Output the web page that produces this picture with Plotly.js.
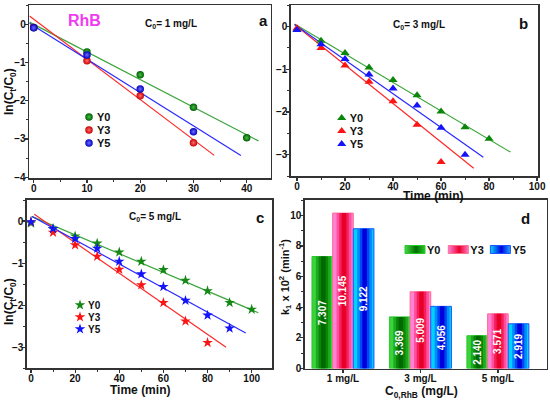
<!DOCTYPE html>
<html>
<head>
<meta charset="utf-8">
<script src="https://cdn.plot.ly/plotly-3.0.1.min.js"></script>
<style>
html,body{margin:0;padding:0;background:#fff;}
#chart{width:550px;height:402px;}
</style>
</head>
<body>
<svg width="0" height="0" style="position:absolute;left:0;top:0" aria-hidden="true">
  <defs>
    <linearGradient id="gradY0" x1="0" y1="0" x2="1" y2="0">
      <stop offset="0" stop-color="rgb(70,220,70)"/><stop offset="0.55" stop-color="rgb(0,110,0)"/><stop offset="1" stop-color="rgb(40,200,40)"/>
    </linearGradient>
    <linearGradient id="gradY3" x1="0" y1="0" x2="1" y2="0">
      <stop offset="0" stop-color="rgb(255,130,220)"/><stop offset="0.55" stop-color="rgb(235,0,40)"/><stop offset="1" stop-color="rgb(255,120,200)"/>
    </linearGradient>
    <linearGradient id="gradY5" x1="0" y1="0" x2="1" y2="0">
      <stop offset="0" stop-color="rgb(0,215,255)"/><stop offset="0.55" stop-color="rgb(0,0,225)"/><stop offset="1" stop-color="rgb(30,170,255)"/>
    </linearGradient>
  </defs>
</svg>
<div id="chart"></div>
<script>
// ---------- Data ----------
// Panel a: C0 = 1 mg/L
var aT0 = [0, 10, 20, 30, 40];
var aY0 = [-0.08, -0.72, -1.32, -2.17, -2.97];
var aT3 = [0, 10, 20, 30];
var aY3 = [-0.08, -0.95, -1.87, -3.10];
var aT5 = [0, 10, 20, 30];
var aY5 = [-0.09, -0.80, -1.69, -2.81];
var aFitX0 = [-0.8, 42.2], aFitY0 = [0.06, -3.05];
var aFitX3 = [-0.8, 33.9], aFitY3 = [0.22, -3.43];
var aFitX5 = [-0.8, 38.9], aFitY5 = [0.03, -3.43];

// Panel b: C0 = 3 mg/L
var bT0 = [0, 10, 20, 30, 40, 50, 60, 70, 80];
var bY0 = [-0.06, -0.33, -0.62, -0.96, -1.25, -1.61, -1.99, -2.36, -2.63];
var bT3 = [0, 10, 20, 30, 40, 50, 60];
var bY3 = [-0.04, -0.50, -0.91, -1.29, -1.75, -2.30, -3.17];
var bT5 = [0, 10, 20, 30, 40, 50, 60, 70];
var bY5 = [-0.08, -0.41, -0.76, -1.12, -1.45, -1.85, -2.37, -3.00];
var bFitX0 = [-1, 88.9], bFitY0 = [0.06, -2.94];
var bFitX3 = [-1, 73.6], bFitY3 = [0.05, -3.32];
var bFitX5 = [-1, 77.6], bFitY5 = [0.05, -3.06];

// Panel c: C0 = 5 mg/L
var cT0 = [0, 10, 20, 30, 40, 50, 60, 70, 80, 90, 100];
var cY0 = [-0.05, -0.19, -0.36, -0.53, -0.74, -0.96, -1.16, -1.41, -1.66, -1.94, -2.10];
var cT3 = [0, 10, 20, 30, 40, 50, 60, 70, 80];
var cY3 = [-0.02, -0.27, -0.57, -0.84, -1.15, -1.52, -1.94, -2.38, -2.89];
var cT5 = [0, 10, 20, 30, 40, 50, 60, 70, 80, 90];
var cY5 = [-0.02, -0.18, -0.42, -0.65, -0.96, -1.26, -1.56, -1.89, -2.24, -2.55];
var cFitX0 = [0.3, 103], cFitY0 = [0.11, -2.18];
var cFitX3 = [1.5, 88.4], cFitY3 = [0.16, -3.00];
var cFitX5 = [0.5, 97.3], cFitY5 = [0.11, -2.66];

// Panel d: rate constants k1 x 10^2 (min^-1)
var dCats = ['1 mg/L', '3 mg/L', '5 mg/L'];
var kY0 = [7.307, 3.369, 2.140];
var kY3 = [10.145, 5.009, 3.571];
var kY5 = [9.122, 4.056, 2.919];
var kY0Text = ['7.307', '3.369', '2.140'];
var kY3Text = ['10.145', '5.009', '3.571'];
var kY5Text = ['9.122', '4.056', '2.919'];

var seriesNames = ['Y0', 'Y3', 'Y5'];

// ---------- Styles ----------
var FONT = 'Liberation Sans, Arial, sans-serif';
var GL = 'rgb(60,165,60)', RL = 'rgb(255,40,40)', BL = 'rgb(40,40,255)';
var W = 550, H = 402;
function px(x){ return x / W; }
function py(y){ return 1 - y / H; }

function sphere(color, light){
  return {symbol:'circle', size:7.5, color:color, gradient:{type:'radial', color:light}, line:{width:0}};
}
function pts(x, y, name, marker, xa, ya, leg){
  return {x:x, y:y, name:name, type:'scatter', mode:'markers', marker:marker, xaxis:xa, yaxis:ya, legend:leg, hoverinfo:'skip'};
}
function fit(x, y, color, xa, ya){
  return {x:x, y:y, type:'scatter', mode:'lines', line:{color:color, width:1.2}, xaxis:xa, yaxis:ya, showlegend:false, hoverinfo:'skip'};
}

var traces = [
  fit(aFitX0, aFitY0, GL, 'x', 'y'), fit(aFitX3, aFitY3, RL, 'x', 'y'), fit(aFitX5, aFitY5, BL, 'x', 'y'),
  pts(aT0, aY0, seriesNames[0], sphere('rgb(0,95,0)', 'rgb(70,190,70)'), 'x', 'y', 'legend'),
  pts(aT3, aY3, seriesNames[1], sphere('rgb(200,0,0)', 'rgb(255,110,110)'), 'x', 'y', 'legend2'),
  pts(aT5, aY5, seriesNames[2], sphere('rgb(0,0,190)', 'rgb(110,110,255)'), 'x', 'y', 'legend3'),

  fit(bFitX0, bFitY0, GL, 'x2', 'y2'), fit(bFitX3, bFitY3, RL, 'x2', 'y2'), fit(bFitX5, bFitY5, BL, 'x2', 'y2'),
  pts(bT0, bY0, seriesNames[0], {symbol:'triangle-up', size:8, color:'rgb(10,135,10)'}, 'x2', 'y2', 'legend4'),
  pts(bT3, bY3, seriesNames[1], {symbol:'triangle-up', size:8, color:'rgb(250,20,20)'}, 'x2', 'y2', 'legend5'),
  pts(bT5, bY5, seriesNames[2], {symbol:'triangle-up', size:8, color:'rgb(20,20,250)'}, 'x2', 'y2', 'legend6'),

  fit(cFitX0, cFitY0, GL, 'x3', 'y3'), fit(cFitX3, cFitY3, RL, 'x3', 'y3'), fit(cFitX5, cFitY5, BL, 'x3', 'y3'),
  pts(cT0, cY0, seriesNames[0], {symbol:'star', size:8, color:'rgb(20,135,20)'}, 'x3', 'y3', 'legend7'),
  pts(cT3, cY3, seriesNames[1], {symbol:'star', size:8, color:'rgb(250,20,20)'}, 'x3', 'y3', 'legend8'),
  pts(cT5, cY5, seriesNames[2], {symbol:'star', size:8, color:'rgb(20,20,250)'}, 'x3', 'y3', 'legend9')
];

// Bars: each bar is shaded (light edges, dark centre) by stacking narrower overlaid bars of the same value.
var GROUP = 0.8, BW = GROUP / 3, DARK_AT = 0.55;
var shadeFrac = [1, 0.72, 0.46, 0.22];
var shades = [
  ['rgb(60,210,60)', 'rgb(30,170,30)', 'rgb(10,135,10)', 'rgb(0,105,0)'],
  ['rgb(255,130,215)', 'rgb(255,80,155)', 'rgb(245,30,90)', 'rgb(230,0,40)'],
  ['rgb(0,210,255)', 'rgb(0,140,255)', 'rgb(0,70,240)', 'rgb(0,0,220)']
];
var edges = ['rgb(40,200,40)', 'rgb(255,110,140)', 'rgb(30,80,255)'];
var barFont = {family:FONT, size:10, color:'#ffffff', weight:'bold'};
var kSeries = [kY0, kY3, kY5];
var kTexts = [kY0Text, kY3Text, kY5Text];

kSeries.forEach(function(vals, s){
  var left = -GROUP / 2 + s * BW;
  var centre = left + DARK_AT * BW;
  shadeFrac.forEach(function(f, k){
    var w = f * BW;
    var tr = {x:dCats, y:vals, type:'bar', xaxis:'x4', yaxis:'y4', name:seriesNames[s],
      width:w, offset:(k === 0 ? left : centre - w / 2),
      marker:{color:shades[s][k], line:{color:edges[s], width:(k === 0 ? 1 : 0)}},
      hoverinfo:'skip'};
    if (k === 0) { tr.legend = 'legend' + (10 + s); } else { tr.showlegend = false; }
    traces.push(tr);
  });
  // transparent full-width bar that carries the value label
  traces.push({x:dCats, y:vals, text:kTexts[s], type:'bar', xaxis:'x4', yaxis:'y4', showlegend:false,
    width:BW, offset:left, marker:{color:'rgba(0,0,0,0)', line:{width:0}},
    textposition:'inside', insidetextanchor:'middle', textangle:-90, constraintext:'none',
    textfont:barFont, insidetextfont:barFont, hoverinfo:'skip'});
});

var tickFont = {family:FONT, size:10, color:'#111', weight:'bold'};
function axis(domain, anchor, range, dtick, minorDtick, extra){
  var a = {domain:domain, anchor:anchor, range:range, dtick:dtick, tick0:0,
    showline:true, mirror:true, linecolor:'#333', linewidth:1.6,
    ticks:'outside', ticklen:3, tickwidth:1.2, tickcolor:'#333', ticklabelstandoff:-3,
    showgrid:false, zeroline:false, tickfont:tickFont, fixedrange:true};
  if (minorDtick) a.minor = {dtick:minorDtick, ticks:'outside', ticklen:2, tickwidth:1, tickcolor:'#333', showgrid:false};
  if (extra) for (var k in extra) a[k] = extra[k];
  return a;
}

function legend(x, y, size){
  return {x:px(x), y:py(y), xanchor:'left', yanchor:'middle', bgcolor:'rgba(0,0,0,0)', borderwidth:0,
    font:{family:FONT, size:size || 11, color:'#111', weight:'bold'}, tracegroupgap:0};
}

function ann(text, x, y, size, color, extra){
  var a = {text:text, xref:'paper', yref:'paper', x:px(x), y:py(y), xanchor:'center', yanchor:'middle',
    showarrow:false, font:{family:FONT, size:size, color:color || '#111', weight:'bold'}};
  if (extra) for (var k in extra) a[k] = extra[k];
  return a;
}

var layout = {
  width:W, height:H, margin:{l:0, r:0, t:0, b:0}, paper_bgcolor:'#fff', plot_bgcolor:'#fff',
  showlegend:true, barmode:'overlay',
  xaxis:  axis([px(29.3), px(270.7)], 'y',  [-0.83, 44.5], 10, 5),
  yaxis:  axis([py(178.3), py(5.3)],  'x',  [-4.03, 0.5], 1, 0.5),
  xaxis2: axis([px(291), px(538.3)],  'y2', [-2.5, 100.5], 20, 10),
  yaxis2: axis([py(176), py(5.3)],    'x2', [-3.5, 0.5], 1, 0.5),
  xaxis3: axis([px(27), px(272)],     'y3', [-1.8, 109.2], 20, 10),
  yaxis3: axis([py(368.3), py(200)],  'x3', [-3.5, 0.5], 1, 0.5),
  xaxis4: axis([px(305), px(546.7)],  'y4', [-0.49, 2.63], null, null, {type:'category', dtick:undefined, tick0:undefined}),
  yaxis4: axis([py(368.5), py(200)],  'x4', [0, 11], 2, 1),
  // one legend per entry so each entry sits where the reference has it
  legend:   legend(57, 117),
  legend2:  legend(57, 130),
  legend3:  legend(57, 143),
  legend4:  legend(309.7, 118),
  legend5:  legend(309.7, 131),
  legend6:  legend(309.7, 144),
  legend7:  legend(48, 305, 10),
  legend8:  legend(48, 317, 10),
  legend9:  legend(48, 329, 10),
  legend10: legend(387, 249.5),
  legend11: legend(430.3, 249.5),
  legend12: legend(472.4, 249.5),
  annotations: [
    ann('RhB', 84.5, 20, 16, 'rgb(240,60,240)'),
    ann('C<sub>0</sub>= 1 mg/L', 171, 24, 10),
    ann('a', 263, 20, 15),
    ann('C<sub>0</sub>= 3 mg/L', 419, 25, 10),
    ann('b', 523, 23, 15),
    ann('C<sub>0</sub>= 5 mg/L', 155, 216.5, 10),
    ann('c', 260, 217.5, 15),
    ann('d', 525.5, 218, 15),
    ann('ln(C<sub>t</sub>/C<sub>0</sub>)', 10, 92, 12, '#111', {textangle:-90}),
    ann('ln(C<sub>t</sub>/C<sub>0</sub>)', 10, 302, 12, '#111', {textangle:-90}),
    ann('Time (min)', 433, 196, 12),
    ann('Time (min)', 140, 390, 12),
    ann('k<sub>1</sub> x 10<sup>2</sup> (min<sup>-1</sup>)', 285, 277, 11, '#111', {textangle:-90}),
    ann('C<sub>0,RhB</sub> (mg/L)', 421, 392, 12)
  ]
};

// legend symbols: wider shaded bar swatches, symbols shifted next to their text, as in the reference
function styleLegends(gd){
  gd.querySelectorAll('g.traces').forEach(function(g){
    var d = g.__data__; if (!d || !d[0] || !d[0].trace) return;
    var tr = d[0].trace;
    var lp = g.querySelector('g.legendpoints');
    if (!lp) return;
    if (tr.type === 'bar') {
      lp.querySelectorAll('path').forEach(function(p){
        p.setAttribute('d', 'M10,4H-10V-4H10Z');
        p.setAttribute('transform', 'translate(28,0)');
        p.style.setProperty('fill', 'url(#grad' + tr.name + ')', 'important');
      });
    } else {
      lp.querySelectorAll('path').forEach(function(p){
        p.setAttribute('transform', 'translate(32,0)');
      });
    }
  });
}

Plotly.newPlot('chart', traces, layout, {staticPlot:true, displayModeBar:false}).then(function(gd){
  styleLegends(gd);
  gd.on('plotly_afterplot', function(){ styleLegends(gd); });
});
</script>
</body>
</html>
